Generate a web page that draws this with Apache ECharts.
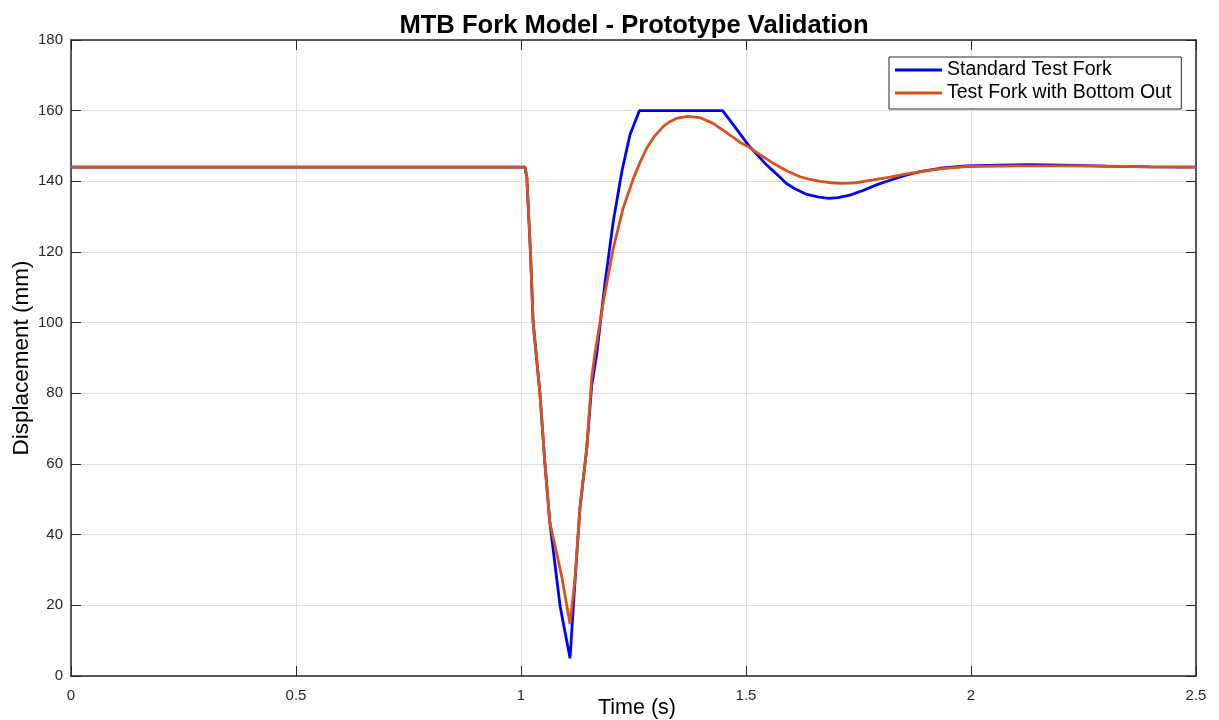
<!DOCTYPE html>
<html>
<head>
<meta charset="utf-8">
<title>MTB Fork Model - Prototype Validation</title>
<script src="https://cdn.jsdelivr.net/npm/echarts@6/dist/echarts.min.js"></script>
<style>
  html, body { margin: 0; padding: 0; background: #ffffff; overflow: hidden; }
  #chart { width: 1219px; height: 720px; }
</style>
</head>
<body>
<div id="chart"></div>
<script>
// Time axis ticks and displacement axis ticks
const xTicks = [0, 0.5, 1, 1.5, 2, 2.5];
const yTicks = [0, 20, 40, 60, 80, 100, 120, 140, 160, 180];

// Standard Test Fork: time (s) and displacement (mm)
const timeStandard = [0, 1.009, 1.013, 1.021, 1.027, 1.042, 1.053, 1.064, 1.087, 1.109,
  1.118, 1.131, 1.146, 1.157, 1.168, 1.187, 1.205, 1.224, 1.242, 1.263, 1.448, 1.472,
  1.505, 1.546, 1.565, 1.590, 1.610, 1.635, 1.660, 1.683, 1.705, 1.731, 1.760, 1.790,
  1.820, 1.857, 1.890, 1.931, 1.990, 2.064, 2.130, 2.200, 2.300, 2.400, 2.500];
const dispStandard = [144, 144, 141, 120, 100, 80, 60.4, 43.5, 19.7, 5,
  23, 47.5, 64.3, 82, 90.9, 111.6, 128.6, 142.7, 153.1, 160, 160, 156,
  150.3, 144.6, 142.4, 139.4, 137.8, 136.3, 135.6, 135.2, 135.4, 136.1, 137.4, 139,
  140.3, 141.8, 142.8, 143.7, 144.4, 144.6, 144.7, 144.6, 144.3, 144.1, 144];

// Test Fork with Bottom Out: time (s) and displacement (mm)
const timeBottomOut = [0, 1.009, 1.013, 1.021, 1.027, 1.042, 1.053, 1.064, 1.090, 1.109,
  1.120, 1.131, 1.146, 1.157, 1.164, 1.183, 1.205, 1.227, 1.250, 1.265, 1.279, 1.295,
  1.316, 1.330, 1.345, 1.370, 1.398, 1.427, 1.460, 1.487, 1.505, 1.535, 1.561, 1.590,
  1.620, 1.640, 1.665, 1.690, 1.709, 1.730, 1.745, 1.783, 1.820, 1.857, 1.890, 1.931,
  1.990, 2.101, 2.200, 2.300, 2.400, 2.500];
const dispBottomOut = [144, 144, 141, 120, 100.1, 80.2, 60.4, 43.5, 28.5, 14.7,
  27.6, 47.5, 64.3, 84.2, 90.9, 105.9, 121, 132.4, 140.9, 145.5, 149.3, 152.5,
  155.5, 156.8, 157.8, 158.4, 158, 156.4, 153.5, 151, 149.8, 147.2, 145.1, 143,
  141.3, 140.6, 140, 139.6, 139.4, 139.5, 139.6, 140.4, 141.2, 142.1, 142.8, 143.5,
  144.2, 144.4, 144.4, 144.3, 144.1, 144];

const seriesNames = ['Standard Test Fork', 'Test Fork with Bottom Out'];
const seriesColors = ['#0000ff', '#d95319'];

function pairs(xs, ys) { return xs.map((x, i) => [x, ys[i]]); }

const FONT = '"Liberation Sans", Arial, Helvetica, sans-serif';
const AXIS_COLOR = '#262626';
const GRID_COLOR = '#dedede';

const chart = echarts.init(document.getElementById('chart'), null, {
  renderer: 'canvas', width: 1219, height: 720
});

const sharedX = {
  type: 'value', min: xTicks[0], max: xTicks[xTicks.length - 1], interval: 0.5
};
const sharedY = {
  type: 'value', min: yTicks[0], max: yTicks[yTicks.length - 1], interval: 20
};
const frameLine = { show: true, onZero: false, lineStyle: { color: AXIS_COLOR, width: 1.5 } };
const innerTicks = { show: true, inside: true, length: 10, lineStyle: { color: AXIS_COLOR } };

chart.setOption({
  backgroundColor: '#ffffff',
  animation: false,
  textStyle: { fontFamily: FONT },
  title: {
    text: 'MTB Fork Model - Prototype Validation',
    left: 629, top: 8, textAlign: 'center',
    textStyle: { fontFamily: FONT, fontSize: 25.6, fontWeight: 'bold', color: '#000000' }
  },
  grid: {
    left: 71, width: 1125, top: 40, height: 636,
    containLabel: false, outerBoundsMode: 'none'
  },
  legend: {
    data: seriesNames,
    orient: 'vertical',
    left: 889, top: 57,
    backgroundColor: '#ffffff',
    borderColor: '#262626', borderWidth: 1,
    padding: [3, 10, 6, 6],
    itemWidth: 47, itemHeight: 3, itemGap: 3,
    icon: 'rect',
    textStyle: { fontFamily: FONT, fontSize: 19.5, color: '#000000' }
  },
  xAxis: [
    Object.assign({}, sharedX, {
      position: 'bottom',
      name: 'Time (s)', nameLocation: 'middle', nameGap: 21, nameMoveOverlap: false,
      nameTextStyle: { fontFamily: FONT, fontSize: 21.5, color: '#000000', padding: [0, 0, 0, 7] },
      axisLine: frameLine,
      axisTick: innerTicks,
      axisLabel: { fontFamily: FONT, fontSize: 15, color: AXIS_COLOR, margin: 12,
        formatter: v => String(v) },
      splitLine: { show: true, lineStyle: { color: GRID_COLOR, width: 1 } }
    }),
    Object.assign({}, sharedX, {
      position: 'top',
      axisLine: frameLine,
      axisTick: innerTicks,
      axisLabel: { show: false },
      splitLine: { show: false }
    })
  ],
  yAxis: [
    Object.assign({}, sharedY, {
      position: 'left',
      name: 'Displacement (mm)', nameLocation: 'middle', nameGap: 38, nameRotate: 90,
      nameMoveOverlap: false,
      nameTextStyle: { fontFamily: FONT, fontSize: 22.5, color: '#000000' },
      axisLine: frameLine,
      axisTick: innerTicks,
      axisLabel: { fontFamily: FONT, fontSize: 15, color: AXIS_COLOR, margin: 8 },
      splitLine: { show: true, lineStyle: { color: GRID_COLOR, width: 1 } }
    }),
    Object.assign({}, sharedY, {
      position: 'right',
      axisLine: frameLine,
      axisTick: innerTicks,
      axisLabel: { show: false },
      splitLine: { show: false }
    })
  ],
  series: [
    {
      name: seriesNames[0], type: 'line', xAxisIndex: 0, yAxisIndex: 0,
      data: pairs(timeStandard, dispStandard),
      showSymbol: false, symbol: 'none',
      color: seriesColors[0],
      lineStyle: { color: seriesColors[0], width: 2.8 }
    },
    {
      name: seriesNames[1], type: 'line', xAxisIndex: 0, yAxisIndex: 0,
      data: pairs(timeBottomOut, dispBottomOut),
      showSymbol: false, symbol: 'none',
      color: seriesColors[1],
      lineStyle: { color: seriesColors[1], width: 2.8 }
    }
  ]
});
</script>
</body>
</html>
